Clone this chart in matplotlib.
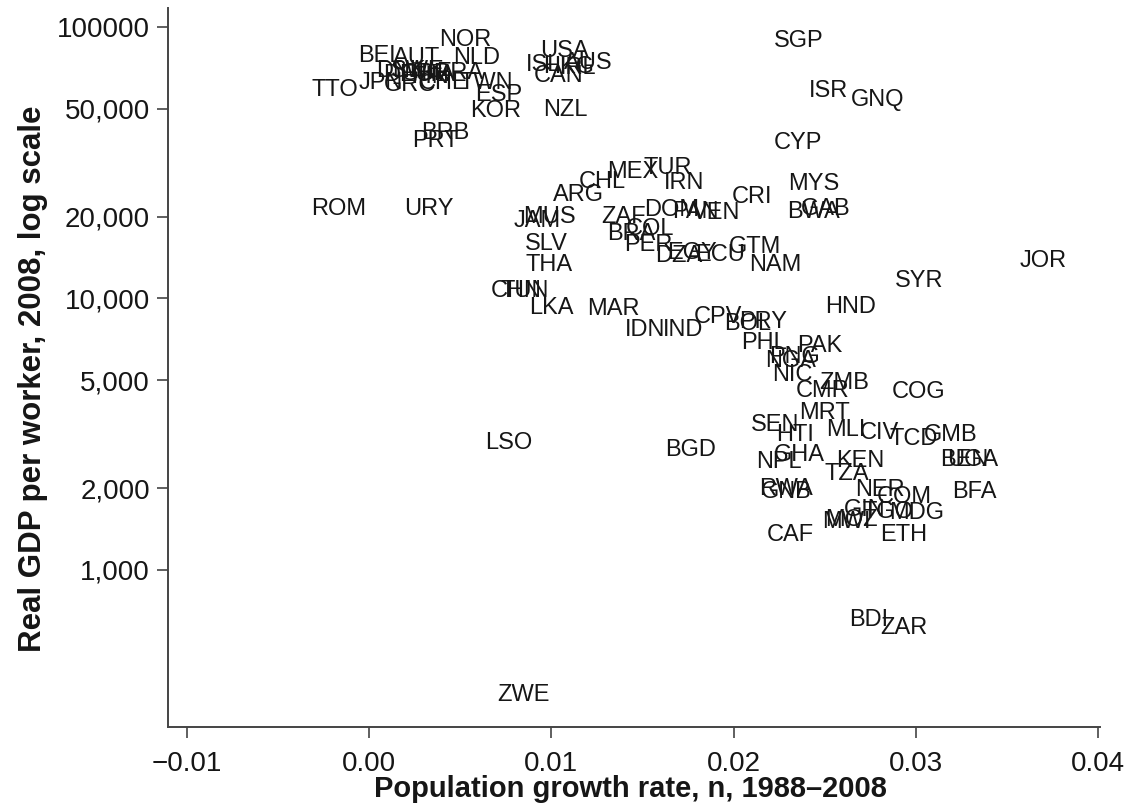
import matplotlib
matplotlib.use('Agg')
import matplotlib.pyplot as plt
import matplotlib.ticker as mticker
from matplotlib.transforms import offset_copy

# country codes, population growth 1988-2008, real GDP per worker 2008
codes = ['NOR', 'USA', 'SGP', 'BEL', 'AUT', 'NLD', 'ISL', 'HKG', 'AUS', 'IRL',
         'CAN', 'TTO', 'JPN', 'DNK', 'FRA', 'DEU', 'SWE', 'GBR', 'ITA', 'FIN',
         'GRC', 'CHE', 'TWN', 'ESP', 'KOR', 'NZL', 'BRB', 'PRT', 'ISR', 'GNQ',
         'CYP', 'MEX', 'TUR', 'IRN', 'CHL', 'ARG', 'ROM', 'URY', 'CRI', 'MYS',
         'BWA', 'GAB', 'DOM', 'PAN', 'VEN', 'ZAF', 'COL', 'BRA', 'PER', 'DZA',
         'EGY', 'ECU', 'GTM', 'NAM', 'JAM', 'MUS', 'SLV', 'THA', 'CHN', 'TUN',
         'LKA', 'MAR', 'IDN', 'IND', 'CPV', 'BOL', 'PRY', 'HND', 'SYR', 'JOR',
         'PHL', 'PAK', 'PNG', 'NGA', 'NIC', 'ZMB', 'CMR', 'COG', 'MRT', 'SEN',
         'HTI', 'MLI', 'CIV', 'TCD', 'GMB', 'BEN', 'UGA', 'NPL', 'GHA', 'KEN',
         'TZA', 'RWA', 'GNB', 'NER', 'COM', 'BFA', 'GIN', 'TGO', 'MDG', 'MWI',
         'MOZ', 'CAF', 'ETH', 'LSO', 'BGD', 'BDI', 'ZAR', 'ZWE']

pop_growth = [0.00527, 0.01070, 0.02355, 0.00060, 0.00258, 0.00587, 0.00955, 0.01092, 0.01202, 0.01147,
              0.01037, -0.00187, 0.00066, 0.00176, 0.00499, 0.00214, 0.00269, 0.00313, 0.00379, 0.00335,
              0.00225, 0.00406, 0.00642, 0.00708, 0.00692, 0.01076, 0.00417, 0.00362, 0.02519, 0.02788,
              0.02355, 0.01449, 0.01641, 0.01729, 0.01279, 0.01147, -0.00170, 0.00329, 0.02102, 0.02442,
              0.02437, 0.02508, 0.01658, 0.01789, 0.01904, 0.01394, 0.01542, 0.01438, 0.01531, 0.01701,
              0.01773, 0.01926, 0.02119, 0.02228, 0.00922, 0.00988, 0.00971, 0.00988, 0.00807, 0.00856,
              0.00999, 0.01339, 0.01515, 0.01723, 0.01915, 0.02080, 0.02162, 0.02640, 0.03019, 0.03699,
              0.02168, 0.02475, 0.02333, 0.02311, 0.02322, 0.02607, 0.02486, 0.03013, 0.02497, 0.02228,
              0.02338, 0.02618, 0.02799, 0.02986, 0.03194, 0.03266, 0.03310, 0.02250, 0.02360, 0.02695,
              0.02623, 0.02289, 0.02289, 0.02805, 0.02936, 0.03321, 0.02722, 0.02849, 0.03002, 0.02618,
              0.02645, 0.02311, 0.02936, 0.00768, 0.01762, 0.02744, 0.02936, 0.00845]

gdp_per_worker = [91900, 83700, 91100, 80200, 78870, 78870, 74300, 73070, 75600, 72400,
                  67700, 60100, 63800, 70600, 69450, 68300, 70600, 68870, 68300, 67130,
                  62700, 63800, 63800, 57620, 50330, 50750, 41750, 39020, 59600, 55240,
                  38350, 29990, 31020, 27330, 27550, 24680, 21910, 21910, 24260, 27090,
                  21360, 21910, 21730, 21360, 21180, 20470, 18490, 17730, 16150, 14710,
                  15090, 14840, 15870, 13630, 19800, 20470, 16290, 13630, 10930, 10930,
                  9465, 9385, 7852, 7852, 8769, 8262, 8403, 9544, 11900, 14100,
                  7035, 6857, 6246, 6037, 5360, 5014, 4681, 4642, 3885, 3509,
                  3224, 3363, 3280, 3116, 3224, 2608, 2608, 2564, 2720, 2585,
                  2315, 2039, 1988, 2022, 1905, 1988, 1706, 1677, 1663, 1541,
                  1568, 1380, 1380, 3012, 2838, 671, 627, 355]

xticks = [-0.01, 0.00, 0.01, 0.02, 0.03, 0.04]
xtick_labels = ['\u22120.01', '0.00', '0.01', '0.02', '0.03', '0.04']
yticks = [1000, 2000, 5000, 10000, 20000, 50000, 100000]
ytick_labels = ['1,000', '2,000', '5,000', '10,000', '20,000', '50,000', '100000']

plt.rcParams['font.family'] = ['Liberation Sans', 'DejaVu Sans']
label_font = ['Liberation Sans Narrow', 'Liberation Sans', 'DejaVu Sans']
txt_color = '#161616'

fig = plt.figure(figsize=(11.28, 8.05), dpi=100)
ax = fig.add_axes([0.149, 0.097, 0.826, 0.893])

# labels are centred on the point, nudged a few pixels down so caps sit centred
trans = offset_copy(ax.transData, fig=fig, x=0, y=-3, units='dots')
for c, x, y in zip(codes, pop_growth, gdp_per_worker):
    ax.text(x, y, c, ha='center', va='center', fontsize=17, color=txt_color,
            transform=trans)

ax.set_yscale('log')
ax.set_xlim(-0.01104, 0.0401)
ax.set_ylim(264, 117500)

ax.set_xticks(xticks)
ax.set_xticklabels(xtick_labels)
ax.set_yticks(yticks)
ax.set_yticklabels(ytick_labels)
ax.yaxis.set_minor_locator(mticker.NullLocator())

ax.tick_params(axis='x', direction='out', length=8, width=1.2, colors='#444',
               labelsize=20, labelcolor=txt_color, pad=9)
ax.tick_params(axis='y', direction='out', length=8, width=1.2, colors='#444',
               labelsize=20, labelcolor=txt_color, pad=5)

for s in ['top', 'right']:
    ax.spines[s].set_visible(False)
for s in ['left', 'bottom']:
    ax.spines[s].set_color('#444')
    ax.spines[s].set_linewidth(1.4)

fig.text(0.029, 0.530, 'Real GDP per worker, 2008, log scale', rotation=90,
         ha='center', va='center', fontsize=22.5, fontweight='bold',
         family=label_font, color=txt_color)
fig.text(0.559, 0.003, 'Population growth rate, n, 1988\u20132008',
         ha='center', va='bottom', fontsize=21, fontweight='bold',
         family=label_font, color=txt_color)

fig.savefig('out.png', dpi=100)
